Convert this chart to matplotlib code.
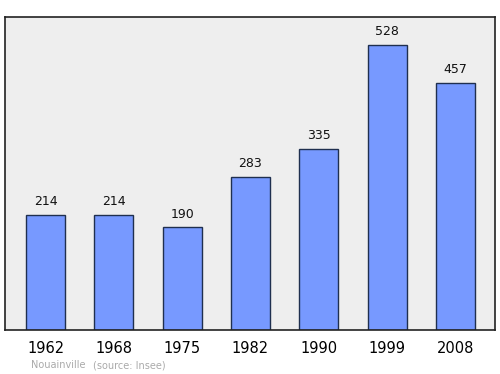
import matplotlib
matplotlib.use("Agg")
import matplotlib.pyplot as plt

# population per census year
years = ["1962", "1968", "1975", "1982", "1990", "1999", "2008"]
population = [214, 214, 190, 283, 335, 528, 457]

fig = plt.figure(figsize=(5, 3.74), dpi=100)
ax = fig.add_axes([0.01, 0.1176, 0.98, 0.837])
ax.set_facecolor("#eeeeee")

x = range(len(years))
bars = ax.bar(x, population, width=0.57, color="#7799ff",
              edgecolor="#1f2f4f", linewidth=1)

# value above each bar
for b, v in zip(bars, population):
    ax.annotate(str(v), (b.get_x() + b.get_width() / 2, v),
                xytext=(0, 5), textcoords="offset points",
                ha="center", va="bottom", fontsize=9, color="#111111")

ax.set_xlim(-0.593, 6.58)
ax.set_ylim(0, 580)
ax.set_yticks([])
ax.set_xticks(list(x))
ax.set_xticklabels(years, fontsize=10.5)
ax.tick_params(axis="x", length=0, pad=8)
for s in ax.spines.values():
    s.set_linewidth(1.2)
    s.set_color("#222222")

fig.text(31 / 500, 1 - 365 / 374, "Nouainville", fontsize=7, color="#aaaaaa",
         va="center")
fig.text(93 / 500, 1 - 365 / 374, "(source: Insee)", fontsize=7,
         color="#aaaaaa", va="center")

fig.savefig("out.png", dpi=100)
